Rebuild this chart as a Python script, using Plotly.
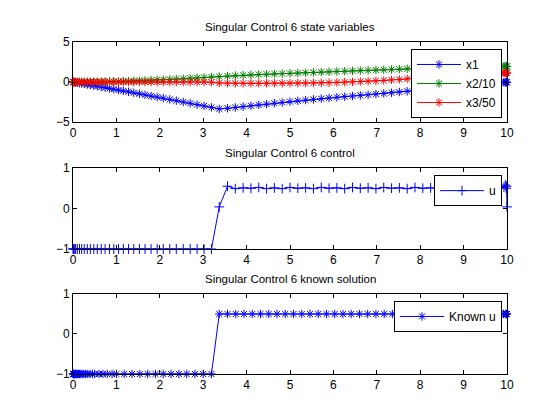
import plotly.graph_objects as go

# ---------------- data ----------------
t_sol = [0.0, 0.01, 0.03, 0.06, 0.1, 0.15, 0.2, 0.26, 0.33, 0.4,
         0.48, 0.56, 0.65, 0.74, 0.84, 0.94, 1.05, 1.16, 1.28, 1.4,
         1.53, 1.66, 1.8, 1.94, 2.08, 2.23, 2.38, 2.54, 2.7, 2.86,
         3.02, 3.19, 3.37, 3.56, 3.74, 3.92, 4.1, 4.28, 4.46, 4.64,
         4.82, 5.0, 5.18, 5.36, 5.54, 5.72, 5.9, 6.08, 6.26, 6.44,
         6.62, 6.8, 6.98, 7.16, 7.34, 7.52, 7.7, 7.88, 8.06, 8.24,
         8.42, 8.6, 8.78, 8.96, 9.14, 9.32, 9.5, 9.68, 9.8, 9.93,
         9.96, 9.98, 9.99, 10.0]

x1 = [0.0, -0.01, -0.03, -0.06, -0.09, -0.14, -0.19, -0.24, -0.31, -0.38,
      -0.45, -0.53, -0.61, -0.70, -0.80, -0.89, -1.00, -1.11, -1.22, -1.34,
      -1.47, -1.60, -1.74, -1.88, -2.02, -2.17, -2.33, -2.49, -2.66, -2.82,
      -2.99, -3.17, -3.36, -3.28, -3.18, -3.08, -2.97, -2.86, -2.76, -2.65,
      -2.55, -2.45, -2.35, -2.26, -2.17, -2.08, -1.99, -1.91, -1.83, -1.75,
      -1.67, -1.59, -1.51, -1.43, -1.34, -1.25, -1.16, -1.07, -0.98, -0.88,
      -0.79, -0.69, -0.60, -0.50, -0.41, -0.32, -0.23, -0.15, -0.10, -0.05,
      -0.04, -0.03, -0.03, -0.03]

x2_10 = [0.0, 0.0, 0.0, 0.0, 0.0, 0.01, 0.01, 0.01, 0.02, 0.02,
         0.03, 0.03, 0.04, 0.05, 0.06, 0.07, 0.08, 0.10, 0.12, 0.14,
         0.17, 0.19, 0.22, 0.26, 0.29, 0.33, 0.37, 0.42, 0.47, 0.52,
         0.57, 0.63, 0.69, 0.75, 0.80, 0.85, 0.90, 0.94, 0.98, 1.02,
         1.05, 1.08, 1.12, 1.16, 1.20, 1.24, 1.28, 1.32, 1.35, 1.39,
         1.43, 1.46, 1.50, 1.53, 1.57, 1.61, 1.65, 1.69, 1.72, 1.75,
         1.78, 1.81, 1.83, 1.85, 1.87, 1.89, 1.91, 1.93, 1.94, 1.95,
         1.95, 1.95, 1.95, 1.95]

x3_50 = [0.0, 0.0, 0.0, 0.0, 0.0, 0.0, 0.0, 0.0, 0.0, 0.0,
         0.0, 0.0, 0.0, 0.0, 0.0, 0.0, 0.0, 0.0, 0.0, 0.0,
         0.0, 0.0, 0.0, 0.0, 0.0, 0.0, 0.0, 0.0, 0.0, 0.0,
         0.0, -0.02, -0.12, -0.15, -0.16, -0.16, -0.16, -0.16, -0.16, -0.15,
         -0.15, -0.15, -0.14, -0.13, -0.12, -0.10, -0.08, -0.05, -0.02, 0.02,
         0.06, 0.10, 0.15, 0.20, 0.26, 0.32, 0.40, 0.45, 0.50, 0.56,
         0.62, 0.68, 0.73, 0.79, 0.85, 0.91, 0.97, 1.02, 1.07, 1.11,
         1.12, 1.12, 1.12, 1.12]

u_ctrl = [-1.0, -1.0, -1.0, -1.0, -1.0, -1.0, -1.0, -1.0, -1.0, -1.0,
          -1.0, -1.0, -1.0, -1.0, -1.0, -1.0, -1.0, -1.0, -1.0, -1.0,
          -1.0, -1.0, -1.0, -1.0, -1.0, -1.0, -1.0, -1.0, -1.0, -1.0,
          -1.0, -1.0, 0.04, 0.55, 0.49, 0.51, 0.50, 0.52, 0.49, 0.51,
          0.49, 0.52, 0.50, 0.51, 0.49, 0.52, 0.50, 0.51, 0.49, 0.52,
          0.50, 0.51, 0.49, 0.52, 0.50, 0.51, 0.49, 0.52, 0.50, 0.51,
          0.49, 0.52, 0.50, 0.51, 0.49, 0.52, 0.50, 0.51, 0.52, 0.53,
          0.58, 0.50, 0.55, 0.04]

t_known = [0.0, 0.005, 0.01, 0.02, 0.03, 0.045, 0.06, 0.08, 0.1, 0.125,
           0.15, 0.18, 0.21, 0.25, 0.29, 0.34, 0.39, 0.45, 0.5, 0.6,
           0.69, 0.79, 0.9, 1.0, 1.18, 1.36, 1.54, 1.72, 1.9, 2.08,
           2.26, 2.44, 2.62, 2.81, 3.0, 3.19, 3.37, 3.56, 3.75, 3.94,
           4.13, 4.32, 4.51, 4.7, 4.89, 5.08, 5.27, 5.46, 5.65, 5.84,
           6.03, 6.22, 6.41, 6.6, 6.79, 6.98, 7.17, 7.36, 7.55, 7.74,
           7.93, 8.12, 8.31, 8.5, 8.69, 8.88, 9.07, 9.26, 9.45, 9.64,
           9.83, 9.92, 9.96, 9.98, 9.99, 10.0]

u_known = [-1.0, -1.0, -1.0, -1.0, -1.0, -1.0, -1.0, -1.0, -1.0, -1.0,
           -1.0, -1.0, -1.0, -1.0, -1.0, -1.0, -1.0, -1.0, -1.0, -1.0,
           -1.0, -1.0, -1.0, -1.0, -1.0, -1.0, -1.0, -1.0, -1.0, -1.0,
           -1.0, -1.0, -1.0, -1.0, -1.0, -1.0, 0.5, 0.5, 0.5, 0.5,
           0.5, 0.5, 0.5, 0.5, 0.5, 0.5, 0.5, 0.5, 0.5, 0.5,
           0.5, 0.5, 0.5, 0.5, 0.5, 0.5, 0.5, 0.5, 0.5, 0.5,
           0.5, 0.5, 0.5, 0.5, 0.5, 0.5, 0.5, 0.5, 0.5, 0.5,
           0.5, 0.5, 0.5, 0.5, 0.5, 0.5]

titles = ["Singular Control 6 state variables",
          "Singular Control 6 control",
          "Singular Control 6 known solution"]
x_ticks = [0, 1, 2, 3, 4, 5, 6, 7, 8, 9, 10]
y_ticks_states = [-5, 0, 5]
y_ticks_u = [-1, 0, 1]

# ---------------- figure ----------------
FONT = "Liberation Sans, Arial, Helvetica, sans-serif"
BLUE = "rgb(0,0,255)"
GREEN = "rgb(0,128,0)"
RED = "rgb(255,0,0)"

fig = go.Figure()

def add(x, y, name, color, symbol, xa, ya, legend):
    fig.add_trace(go.Scatter(
        x=x, y=y, name=name, mode="lines+markers",
        line=dict(color=color, width=1),
        marker=dict(symbol=symbol, size=7, color=color,
                    line=dict(color=color, width=1)),
        xaxis=xa, yaxis=ya, legend=legend, cliponaxis=False))

add(t_sol, x1, "x1", BLUE, "asterisk-open", "x", "y", "legend")
add(t_sol, x2_10, "x2/10", GREEN, "asterisk-open", "x", "y", "legend")
add(t_sol, x3_50, "x3/50", RED, "asterisk-open", "x", "y", "legend")
add(t_sol, u_ctrl, "u", BLUE, "cross-thin-open", "x2", "y2", "legend2")
add(t_known, u_known, "Known u", BLUE, "asterisk-open", "x3", "y3", "legend3")

doms = [[0.759, 1.0], [0.3765, 0.6205], [0.0, 0.241]]

axis_common = dict(showline=True, linecolor="black", linewidth=1, mirror="ticks",
                   ticks="inside", ticklen=4, tickcolor="black", tickwidth=1,
                   showgrid=False, zeroline=False,
                   tickfont=dict(family=FONT, size=12, color="black"))

layout = dict(
    width=560, height=420,
    margin=dict(l=73, r=53, t=42, b=46),
    paper_bgcolor="white", plot_bgcolor="white",
    font=dict(family=FONT, size=11, color="black"),
)
for i in range(3):
    sx = "" if i == 0 else str(i + 1)
    ysx = "y" if i == 0 else "y" + str(i + 1)
    xsx = "x" if i == 0 else "x" + str(i + 1)
    layout["xaxis" + sx] = dict(axis_common, domain=[0, 1], anchor=ysx,
                                range=[0, 10], tickvals=x_ticks)
    yt = y_ticks_states if i == 0 else y_ticks_u
    layout["yaxis" + sx] = dict(axis_common, domain=doms[i], anchor=xsx,
                                range=[yt[0], yt[-1]], tickvals=yt)

legend_common = dict(xanchor="right", yanchor="top", bgcolor="white",
                     bordercolor="black", borderwidth=1, itemwidth=44,
                     font=dict(family=FONT, size=12, color="black"),
                     tracegroupgap=0)
layout["legend"] = dict(legend_common, x=0.9885, y=0.979)
layout["legend2"] = dict(legend_common, x=0.9885, y=0.599)
layout["legend3"] = dict(legend_common, x=0.9885, y=0.22)

fig.update_layout(**layout)

for i, tt in enumerate(titles):
    fig.add_annotation(text=tt, xref="paper", yref="paper", x=0.5, y=doms[i][1],
                       xanchor="center", yanchor="bottom", yshift=7, showarrow=False,
                       font=dict(family=FONT, size=11.5, color="black"))

fig.write_html("out.html")
